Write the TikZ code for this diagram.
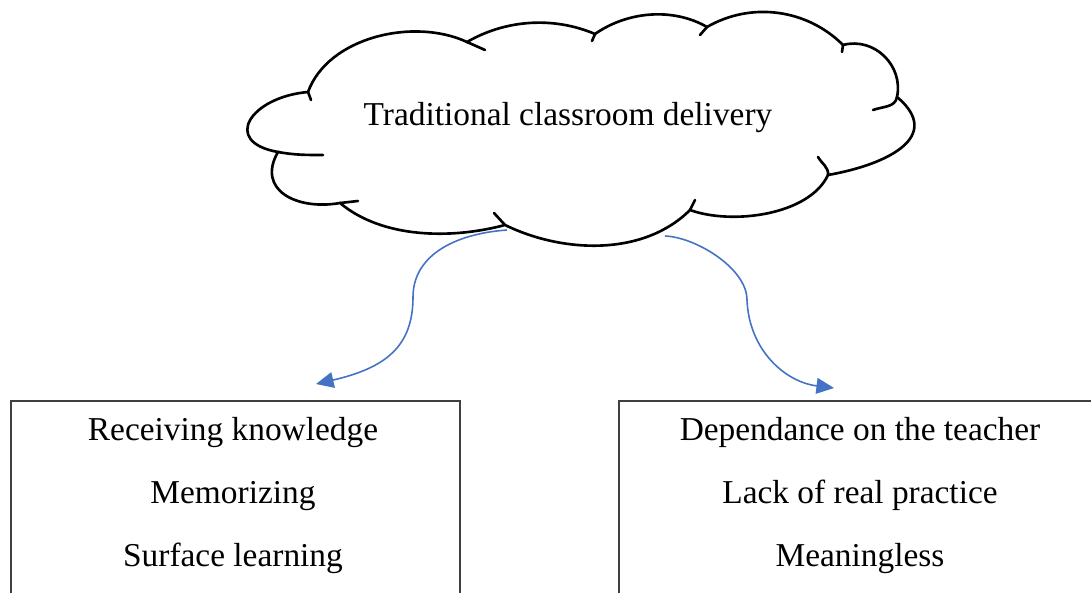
\documentclass[tikz,border=0pt]{standalone}
\usepackage{fontspec}
\setmainfont{Liberation Serif}
\usepackage{xcolor}
\usetikzlibrary{arrows.meta}
\definecolor{linkblue}{HTML}{4472C4}

\begin{document}
\begin{tikzpicture}[x=0.02cm, y=0.02cm,
    puff/.style={line width=1.5pt, line cap=round},
    box/.style={draw=black!75, line width=1pt, minimum width=#1, minimum height=4.5cm, anchor=north west},
    item/.style={font=\fontsize{19}{23}\selectfont, anchor=base},
    link/.style={linkblue, line width=0.9pt, -{Triangle[length=10pt, width=9pt]}}]
    \useasboundingbox (0, 0) rectangle (1091, 592);
    \clip (0, 0) rectangle (1091, 592);

    \coordinate (J1) at (308, 500);
    \coordinate (J2) at (467, 550);
    \coordinate (J3) at (595, 558);
    \coordinate (J4) at (707, 565);
    \coordinate (J5) at (843, 547);
    \coordinate (J6) at (897, 495);
    \coordinate (J7) at (828, 417);
    \coordinate (J8) at (690, 382);
    \coordinate (J9) at (505, 367);
    \coordinate (J10) at (340, 389);
    \coordinate (J11) at (278, 440);

    \draw[puff] (J1) to[out=70, in=155, looseness=0.9] (J2)
      to[out=30, in=157, looseness=0.9] (J3)
      to[out=35, in=150, looseness=0.9] (J4)
      to[out=30, in=135, looseness=0.95] (J5)
      to[out=15, in=78, looseness=1.1] (J6)
      to[out=-40, in=10, looseness=1.5] (J7)
      to[out=245, in=-20, looseness=0.8] (J8)
      to[out=225, in=-26, looseness=0.9] (J9)
      to[out=195, in=-40, looseness=0.85] (J10)
      to[out=190, in=240, looseness=1.4] (J11)
      to[out=170, in=185, looseness=2.2] (J1);

    \draw[puff] (J1) -- (311, 492);
    \draw[puff] (J2) -- (485, 542);
    \draw[puff] (J3) -- (592, 551);
    \draw[puff] (J4) -- (700, 557);
    \draw[puff] (J5) -- (842, 540);
    \draw[puff] (J6) to[out=-100, in=20] (873, 482);
    \draw[puff] (J7) to[out=85, in=-60] (818, 435);
    \draw[puff] (J8) -- (695, 392);
    \draw[puff] (J9) -- (494, 379);
    \draw[puff] (J10) -- (358, 391);
    \draw[puff] (J11) to[out=-10, in=180] (323, 437);

    \node[item] (title) at (568, 466) {Traditional classroom delivery};

    \node[box=8.98cm] (lbox) at (10, 192) {};
    \node[box=11cm] (rbox) at (618, 192) {};

    \node[item] (recv) at (233, 152) {Receiving knowledge};
    \node[item] (memo) at (233, 89) {Memorizing};
    \node[item] (surf) at (233, 26) {Surface learning};
    \node[item] (dep) at (860, 152) {Dependance on the teacher};
    \node[item] (lack) at (860, 89) {Lack of real practice};
    \node[item] (mean) at (860, 26) {Meaningless};

    \coordinate (lfrom) at (507, 362);
    \coordinate (ltip) at (316, 208);
    \coordinate (rfrom) at (665, 356);
    \coordinate (rtip) at (834, 204);

    \draw[link] (lfrom) .. controls (452, 358) and (413, 335) .. (413, 295)
      .. controls (413, 245) and (385, 224) .. (ltip);
    \draw[link] (rfrom) .. controls (695, 355) and (747, 324) .. (747, 292)
      .. controls (749, 242) and (785, 210) .. (rtip);
  \end{tikzpicture}
\end{document}
